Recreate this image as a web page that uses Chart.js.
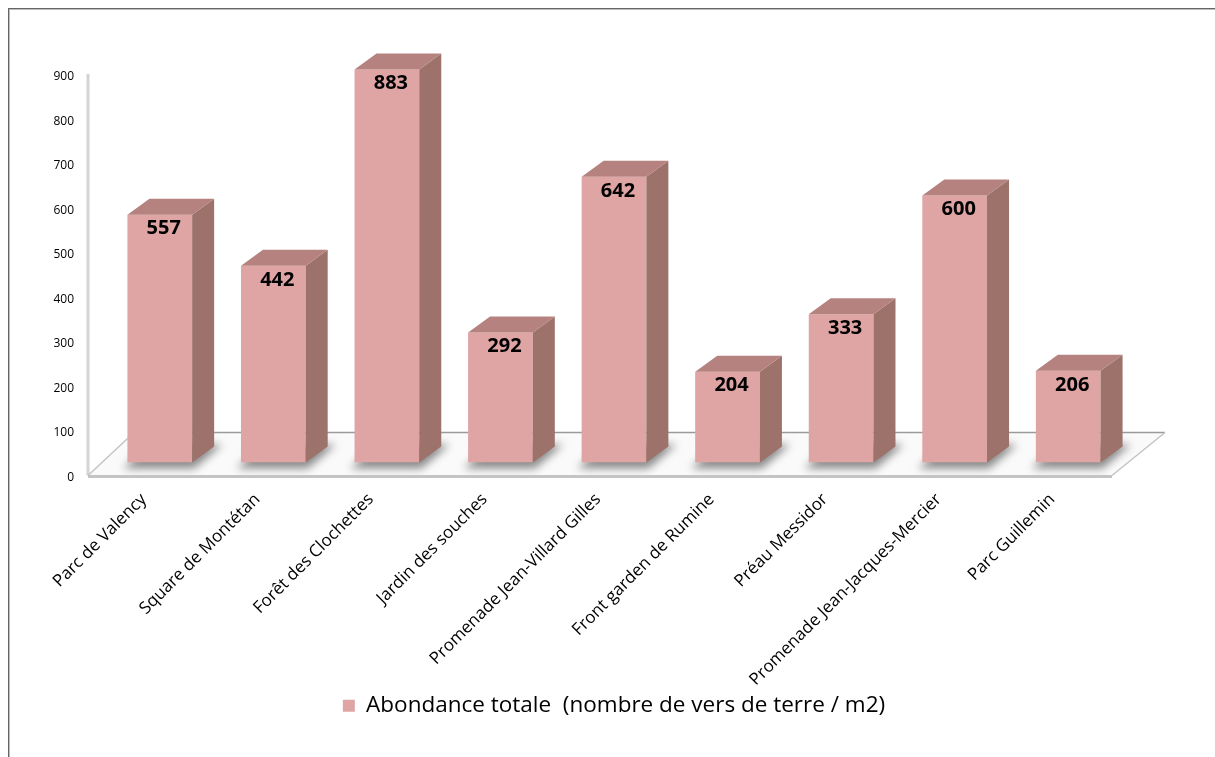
<!DOCTYPE html>
<html>
<head>
<meta charset="utf-8">
<script src="https://cdn.jsdelivr.net/npm/chart.js@4.4.0/dist/chart.umd.min.js"></script>
<style>
  html, body { margin: 0; padding: 0; background: #fff; }
  #wrap { position: relative; width: 1215px; height: 757px; overflow: hidden; }
  #frame {
    position: absolute; left: 8px; top: 8px; right: -2px; bottom: -2px;
    border-top: 1px solid #666; border-left: 1px solid #666;
    box-shadow: inset 1px 1px 0 #bbb; pointer-events: none;
  }
  canvas { position: absolute; left: 0; top: 0; }
</style>
</head>
<body>
<div id="wrap">
  <canvas id="abondance-chart" width="1215" height="757"></canvas>
  <div id="frame"></div>
</div>
<script>
const sites = [
  'Parc de Valency', 'Square de Montétan', 'Forêt des Clochettes', 'Jardin des souches',
  'Promenade Jean-Villard Gilles', 'Front garden de Rumine', 'Préau Messidor',
  'Promenade Jean-Jacques-Mercier', 'Parc Guillemin'
];
const abondance = [557, 442, 883, 292, 642, 204, 333, 600, 206];
const yTickValues = [0, 100, 200, 300, 400, 500, 600, 700, 800, 900];
const serieLabel = 'Abondance totale  (nombre de vers de terre / m2)';

const FONT = "'Open Sans', sans-serif";
const FRONT = '#dfa4a4';
const SIDE = '#9c726a';
const TOP = '#b58280';
const DEPTH_X = 22, DEPTH_Y = 16;

// floor + back wall edge, drawn under the bars
const floorPlugin = {
  id: 'floor3d',
  beforeDatasetsDraw(chart) {
    const ctx = chart.ctx;
    const area = chart.chartArea;
    const y = chart.scales.y;
    const base = y.getPixelForValue(0);
    const fl = { x: area.left - 15, y: base + 13 };
    const fr = { x: area.right - 13, y: base + 13 };
    const bl = { x: area.left + 31, y: base - 30 };
    const br = { x: area.right + 40, y: base - 30 };

    ctx.save();
    // wall edge
    ctx.strokeStyle = '#d4d4d4';
    ctx.lineWidth = 3;
    ctx.beginPath();
    ctx.moveTo(fl.x, y.getPixelForValue(900) + 12);
    ctx.lineTo(fl.x, fl.y);
    ctx.stroke();

    // floor slab
    ctx.beginPath();
    ctx.moveTo(fl.x, fl.y);
    ctx.lineTo(fr.x, fr.y);
    ctx.lineTo(br.x, br.y);
    ctx.lineTo(bl.x, bl.y);
    ctx.closePath();
    ctx.fillStyle = '#fafafa';
    ctx.fill();

    // soft shadows around each bar foot
    const meta = chart.getDatasetMeta(0);
    ctx.filter = 'blur(4px)';
    ctx.fillStyle = 'rgba(110,110,110,0.8)';
    meta.data.forEach(bar => {
      const x0 = bar.x - bar.width / 2, x1 = bar.x + bar.width / 2;
      ctx.beginPath();
      ctx.moveTo(x0 - 4, bar.base + 6);
      ctx.lineTo(x1 + 2, bar.base + 6);
      ctx.lineTo(x1 + DEPTH_X + 8, bar.base - DEPTH_Y - 2);
      ctx.lineTo(x0 + DEPTH_X, bar.base - DEPTH_Y - 2);
      ctx.closePath();
      ctx.fill();
    });
    ctx.filter = 'none';

    ctx.lineWidth = 1.5;
    ctx.strokeStyle = '#9a9a9a';
    ctx.beginPath();
    ctx.moveTo(bl.x, bl.y);
    ctx.lineTo(br.x, br.y);
    ctx.stroke();
    ctx.strokeStyle = '#c4c4c4';
    ctx.beginPath();
    ctx.moveTo(fl.x, fl.y);
    ctx.lineTo(bl.x, bl.y);
    ctx.moveTo(fr.x, fr.y);
    ctx.lineTo(br.x, br.y);
    ctx.stroke();
    ctx.lineWidth = 3;
    ctx.beginPath();
    ctx.moveTo(fl.x, fl.y + 1);
    ctx.lineTo(fr.x, fr.y + 1);
    ctx.stroke();
    ctx.restore();
  }
};

// side and top faces of the bars, then the value labels
const boxPlugin = {
  id: 'box3d',
  afterDatasetsDraw(chart) {
    const ctx = chart.ctx;
    const meta = chart.getDatasetMeta(0);
    ctx.save();
    meta.data.forEach((bar, i) => {
      const x0 = bar.x - bar.width / 2, x1 = bar.x + bar.width / 2;
      const top = bar.y, bottom = bar.base;
      ctx.fillStyle = SIDE;
      ctx.beginPath();
      ctx.moveTo(x1, top);
      ctx.lineTo(x1 + DEPTH_X, top - DEPTH_Y);
      ctx.lineTo(x1 + DEPTH_X, bottom - DEPTH_Y);
      ctx.lineTo(x1, bottom);
      ctx.closePath();
      ctx.fill();
      ctx.fillStyle = TOP;
      ctx.beginPath();
      ctx.moveTo(x0, top);
      ctx.lineTo(x0 + DEPTH_X, top - DEPTH_Y);
      ctx.lineTo(x1 + DEPTH_X, top - DEPTH_Y);
      ctx.lineTo(x1, top);
      ctx.closePath();
      ctx.fill();

      ctx.fillStyle = '#000';
      ctx.font = 'bold 20px ' + FONT;
      ctx.textAlign = 'center';
      ctx.textBaseline = 'middle';
      ctx.fillText(String(abondance[i]), bar.x + 4, top + 14);
    });
    ctx.restore();
  }
};

new Chart(document.getElementById('abondance-chart'), {
  type: 'bar',
  data: {
    labels: sites,
    datasets: [{
      label: serieLabel,
      data: abondance,
      backgroundColor: FRONT,
      borderWidth: 0,
      barPercentage: 0.57,
      categoryPercentage: 1.0,
      yAxisID: 'y'
    }]
  },
  options: {
    responsive: false,
    animation: false,
    layout: { padding: { left: 13, right: 0, top: 62, bottom: 30 } },
    plugins: {
      tooltip: { enabled: false },
      legend: {
        position: 'bottom',
        labels: {
          boxWidth: 12,
          boxHeight: 12,
          color: '#000',
          font: { family: FONT, size: 22.5 }
        }
      }
    },
    scales: {
      x: {
        grid: { display: false, drawTicks: false },
        border: { display: false },
        ticks: {
          autoSkip: false,
          minRotation: 45,
          maxRotation: 45,
          padding: 27,
          labelOffset: -16,
          color: '#000',
          font: { family: FONT, size: 17 }
        },
        afterFit(scale) { scale.height = 222; }
      },
      y: {
        min: 0,
        max: 900,
        grid: { display: false, drawTicks: false },
        border: { display: false },
        afterBuildTicks(scale) { scale.ticks = yTickValues.map(v => ({ value: v })); },
        ticks: {
          padding: 29,
          labelOffset: 15,
          color: '#000',
          font: { family: FONT, size: 12 }
        },
        afterFit(scale) { scale.width = 90; }
      },
      // empty right-hand axis keeping room for the floor's depth
      yRight: {
        position: 'right',
        min: 0,
        max: 900,
        grid: { display: false, drawTicks: false },
        border: { display: false },
        ticks: { display: false },
        afterFit(scale) { scale.width = 90; }
      }
    }
  },
  plugins: [floorPlugin, boxPlugin]
});
</script>
</body>
</html>
